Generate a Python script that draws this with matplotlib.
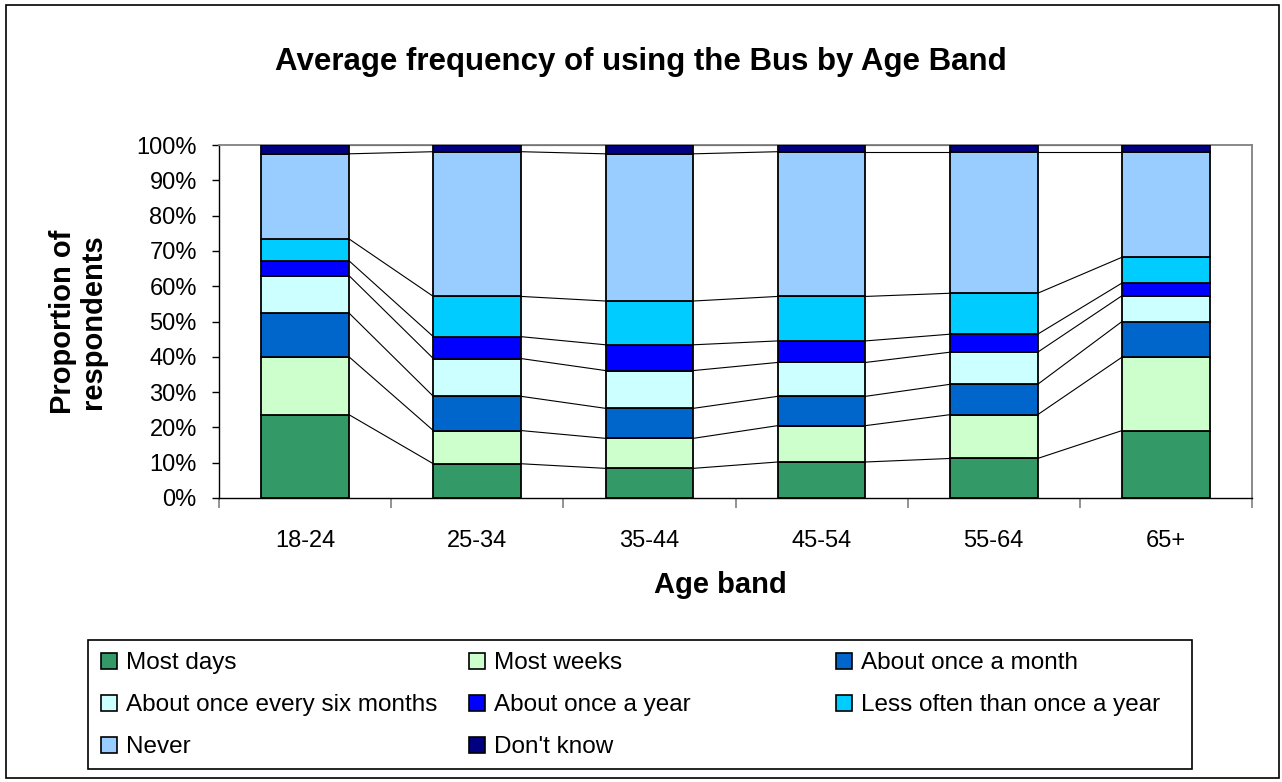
import numpy as np
import matplotlib
matplotlib.use("Agg")
from matplotlib import pyplot as plt
from matplotlib.patches import Rectangle, Patch

plt.rcParams['font.family'] = ['Liberation Sans', 'DejaVu Sans']

# data (percent of respondents per age band)
age_bands = ['18-24', '25-34', '35-44', '45-54', '55-64', '65+']
categories = ['Most days', 'Most weeks', 'About once a month',
              'About once every six months', 'About once a year',
              'Less often than once a year', 'Never', "Don't know"]
most_days = [23.6, 9.7, 8.4, 10.2, 11.2, 19.1]
most_weeks = [16.4, 9.4, 8.5, 10.3, 12.4, 20.8]
once_month = [12.4, 9.7, 8.5, 8.3, 8.6, 10.1]
six_months = [10.6, 10.7, 10.7, 9.6, 9.1, 7.3]
once_year = [4.2, 6.2, 7.3, 6.1, 5.1, 3.6]
less_often = [6.2, 11.4, 12.4, 12.6, 11.6, 7.3]
never = [24.1, 41.0, 41.7, 41.0, 40.1, 29.9]
dont_know = [2.5, 1.9, 2.5, 1.9, 1.9, 1.9]

colors = ['#339966', '#CCFFCC', '#0066CC', '#CCFFFF',
          '#0000FF', '#00CCFF', '#99CCFF', '#000080']

series = [most_days, most_weeks, once_month, six_months,
          once_year, less_often, never, dont_know]

fig = plt.figure(figsize=(12.82, 7.82), dpi=100)
fig.patches.append(Rectangle((6 / 1282, 4 / 782), 1273 / 1282, 773 / 782,
                             transform=fig.transFigure, fill=False,
                             edgecolor='black', linewidth=1.2))

ax = fig.add_axes([219 / 1282, 1 - 498 / 782, 1033 / 1282, 353 / 782])

x = np.arange(len(age_bands))
width = 0.51
bottom = np.zeros(len(age_bands))
for vals, col in zip(series, colors):
    vals = np.array(vals)
    ax.bar(x, vals, width, bottom=bottom, color=col,
           edgecolor='black', linewidth=1.3, zorder=3)
    top = bottom + vals
    # series lines between adjacent bars
    for i in range(len(x) - 1):
        ax.plot([x[i] + width / 2, x[i + 1] - width / 2], [top[i], top[i + 1]],
                color='black', linewidth=0.8, zorder=2)
    bottom = top

ax.set_xlim(-0.5, len(age_bands) - 0.5)
ax.set_ylim(0, 100)
ax.set_yticks(np.arange(0, 101, 10))
ax.set_yticklabels([f'{v}%' for v in range(0, 101, 10)], fontsize=17)
ax.set_xticks(x)
ax.set_xticklabels(age_bands, fontsize=17)
ax.set_xticks(np.arange(-0.5, len(age_bands)), minor=True)
ax.tick_params(axis='x', which='major', length=0, pad=23)
ax.tick_params(axis='x', which='minor', length=7, color='#808080', width=1.2)
ax.tick_params(axis='y', length=5, width=1.0, pad=11)

for side in ['top', 'right']:
    ax.spines[side].set_color('#808080')
    ax.spines[side].set_linewidth(1.3)
for side in ['left', 'bottom']:
    ax.spines[side].set_color('black')
    ax.spines[side].set_linewidth(1.0)

fig.text(0.5, 1 - 62 / 782, 'Average frequency of using the Bus by Age Band',
         ha='center', va='center', fontsize=22.5, fontweight='bold')
fig.text(78 / 1282, 1 - 322 / 782, 'Proportion of\nrespondents', rotation=90,
         ha='center', va='center', fontsize=21, fontweight='bold',
         linespacing=1.05)
fig.text(720 / 1282, 1 - 585 / 782, 'Age band', ha='center', va='center',
         fontsize=21, fontweight='bold')

# legend: box with three columns, filled row by row
fig.patches.append(Rectangle((88 / 1282, 1 - 769 / 782), 1104 / 1282, 129 / 782,
                             transform=fig.transFigure, fill=False,
                             edgecolor='black', linewidth=1.2))
handles = [Patch(facecolor=c, edgecolor='black', linewidth=1.2, label=l)
           for c, l in zip(colors, categories)]
col_x = [94, 462, 829]
for c in range(3):
    h = handles[c::3]
    fig.legend(handles=h, loc='upper left',
               bbox_to_anchor=(col_x[c] / 1282, 1 - 645 / 782),
               frameon=False, fontsize=17.5, handlelength=0.65,
               handleheight=0.65, handletextpad=0.35, labelspacing=0.82,
               borderaxespad=0, borderpad=0.3)

fig.savefig('out.png', dpi=100)
